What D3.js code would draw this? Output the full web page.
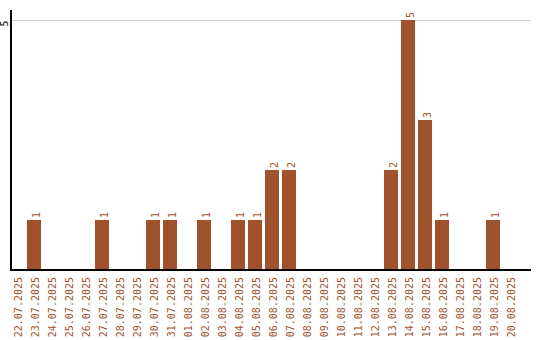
<!DOCTYPE html>
<meta charset="utf-8">
<style>
  body { margin: 0; background: #fff; }
  text { font-family: "DejaVu Sans Mono", monospace; font-size: 10px; }
</style>
<body>
<script src="https://d3js.org/d3.v7.min.js"></script>
<script>
  // days and counts
  const days = ["22.07.2025","23.07.2025","24.07.2025","25.07.2025","26.07.2025","27.07.2025",
    "28.07.2025","29.07.2025","30.07.2025","31.07.2025","01.08.2025","02.08.2025","03.08.2025",
    "04.08.2025","05.08.2025","06.08.2025","07.08.2025","08.08.2025","09.08.2025","10.08.2025",
    "11.08.2025","12.08.2025","13.08.2025","14.08.2025","15.08.2025","16.08.2025","17.08.2025",
    "18.08.2025","19.08.2025","20.08.2025"];
  const counts = [0,1,0,0,0,1,0,0,1,1,0,1,0,1,1,2,2,0,0,0,0,0,2,5,3,1,0,0,1,0];
  const yTicks = [5];

  const color = "#a0522d";
  const mLeft = 10, mTop = 10, mBottom = 270, mRight = 531;

  const svg = d3.select("body").append("svg")
    .attr("width", 540).attr("height", 340);

  const x = d3.scaleBand().domain(days)
    .range([mLeft, mLeft + 17 * days.length - 3])
    .paddingInner(3 / 17).paddingOuter(0);
  const y = d3.scaleLinear().domain([0, 5.2]).range([mBottom, mTop]);

  // gridline + y label
  const yAxis = svg.append("g")
    .attr("transform", `translate(${mLeft},0)`)
    .call(d3.axisLeft(y).tickValues(yTicks).tickSize(-(mRight - mLeft)).tickFormat(d3.format("d")));
  yAxis.select(".domain").remove();
  yAxis.selectAll(".tick line").attr("stroke", "#ccc");
  yAxis.selectAll(".tick text")
    .attr("x", 0).attr("dy", "0.35em")
    .attr("transform", "translate(-6,6) rotate(-90)")
    .attr("text-anchor", "start")
    .attr("fill", "#000");

  const barData = counts.map((c, i) => ({ day: days[i], c })).filter(d => d.c > 0);

  // bars
  svg.append("g").selectAll("rect")
    .data(barData)
    .join("rect")
    .attr("x", d => x(d.day))
    .attr("y", d => y(d.c))
    .attr("width", x.bandwidth())
    .attr("height", d => y(0) - y(d.c))
    .attr("fill", color);

  // value labels
  svg.append("g").selectAll("text")
    .data(barData)
    .join("text")
    .attr("transform", d => `translate(${x(d.day) + x.bandwidth() / 2 + 2},${y(d.c) - 2}) rotate(-90)`)
    .attr("dy", "0.35em")
    .attr("fill", color)
    .text(d => d.c);

  // x axis
  const xAxis = svg.append("g")
    .attr("transform", `translate(0,${mBottom})`)
    .call(d3.axisBottom(x).tickSize(0).tickSizeOuter(0));
  xAxis.select(".domain").remove();
  xAxis.selectAll(".tick text")
    .attr("y", 0).attr("dy", "0.35em")
    .attr("transform", "translate(1,7) rotate(-90)")
    .attr("text-anchor", "end")
    .attr("fill", color);

  // axis lines
  svg.append("line").attr("x1", mLeft).attr("x2", mRight).attr("y1", mBottom).attr("y2", mBottom)
    .attr("stroke", "#000").attr("stroke-width", 2);
  svg.append("line").attr("x1", mLeft + 1).attr("x2", mLeft + 1).attr("y1", mTop).attr("y2", mBottom)
    .attr("stroke", "#000").attr("stroke-width", 2);
</script>
</body>
